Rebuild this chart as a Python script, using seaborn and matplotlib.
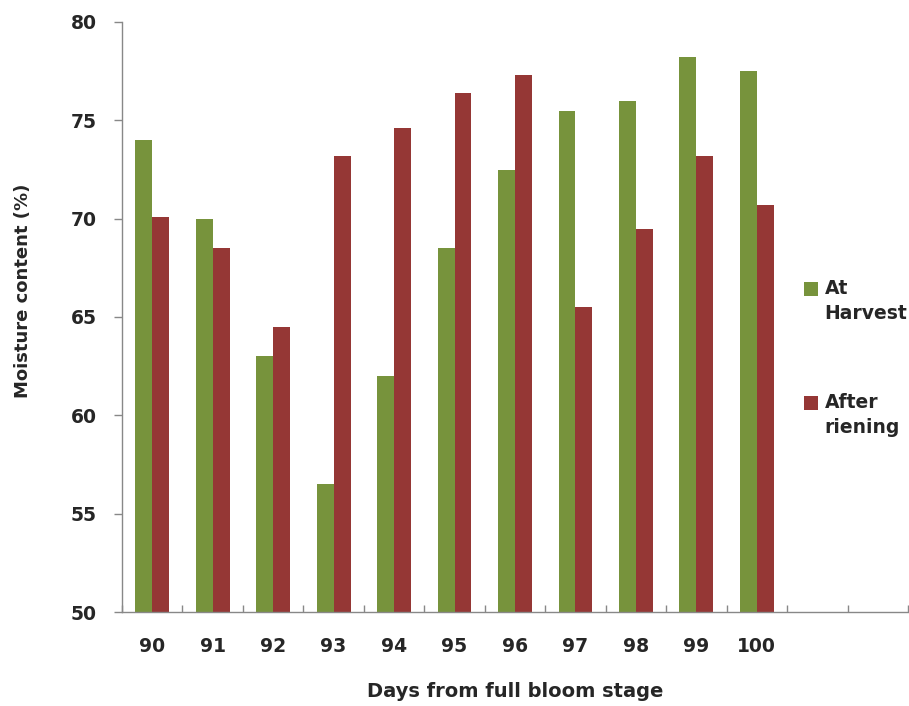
import matplotlib
matplotlib.use('Agg')
import matplotlib.pyplot as plt
import seaborn as sns
import pandas as pd
from matplotlib.patches import Patch, Rectangle
from matplotlib.legend_handler import HandlerPatch
from matplotlib.ticker import FixedLocator

days = ['90', '91', '92', '93', '94', '95', '96', '97', '98', '99', '100']
at_harvest = [74.0, 70.0, 63.0, 56.5, 62.0, 68.5, 72.5, 75.5, 76.0, 78.2, 77.5]
after_ripening = [70.1, 68.5, 64.5, 73.2, 74.6, 76.4, 77.3, 65.5, 69.5, 73.2, 70.7]
series_names = ['At\nHarvest', 'After\nriening']
colors = ['#77933C', '#953735']

df = pd.DataFrame({
    'day': days * 2,
    'value': at_harvest + after_ripening,
    'series': [series_names[0]] * len(days) + [series_names[1]] * len(days),
})

sns.set_style('white')
plt.rcParams['font.family'] = ['DejaVu Sans']

fig = plt.figure(figsize=(9.09, 7.06), dpi=100)
ax = fig.add_axes([122 / 909, 1 - 612 / 706, (908 - 122) / 909, (612 - 22) / 706])

sns.barplot(data=df, x='day', y='value', hue='series', order=days,
            hue_order=series_names, palette=colors, width=0.56,
            saturation=1, legend=False, linewidth=0, edgecolor='none', ax=ax)

ax.set_xlim(-0.5, 12.5)
ax.set_ylim(50, 80)
ax.set_yticks([50, 55, 60, 65, 70, 75, 80])
ax.set_yticklabels(['50', '55', '60', '65', '70', '75', '80'],
                   fontsize=13.5, fontweight='bold')
ax.set_xticks(range(len(days)))
ax.set_xticklabels(days, fontsize=13.5, fontweight='bold')
ax.tick_params(axis='x', which='major', bottom=True, length=0, pad=18)
ax.xaxis.set_minor_locator(FixedLocator([i - 0.5 for i in range(14)]))
ax.tick_params(axis='x', which='minor', bottom=True, direction='in', length=5,
               color='#888888', width=1)
ax.tick_params(axis='y', which='major', left=True, direction='out', length=6,
               color='#888888', width=1, pad=12)

for side in ['top', 'right']:
    ax.spines[side].set_visible(False)
for side in ['left', 'bottom']:
    ax.spines[side].set_color('#888888')
    ax.spines[side].set_linewidth(1)

ax.set_xlabel('Days from full bloom stage', fontsize=14, fontweight='bold',
              labelpad=19)
ax.set_ylabel('Moisture content (%)', fontsize=13, fontweight='bold')
ax.yaxis.set_label_coords(-0.1145, 0.544)


def top_square(legend, orig_handle, xdescent, ydescent, width, height, fontsize):
    return Rectangle((-xdescent, -ydescent + height * 0.95), width, height)


handles = [Patch(facecolor=c, edgecolor='none') for c in colors]
leg = fig.legend(handles, series_names, loc='upper left',
                 bbox_to_anchor=(787 / 909, 1 - 262 / 706), frameon=False,
                 handlelength=0.75, handleheight=0.75, handletextpad=0.35,
                 labelspacing=3.75, prop={'size': 13.5, 'weight': 'bold'},
                 handler_map={Patch: HandlerPatch(patch_func=top_square)})
for t in leg.get_texts():
    t.set_linespacing(1.4)

fig.savefig('out.png', dpi=100)
